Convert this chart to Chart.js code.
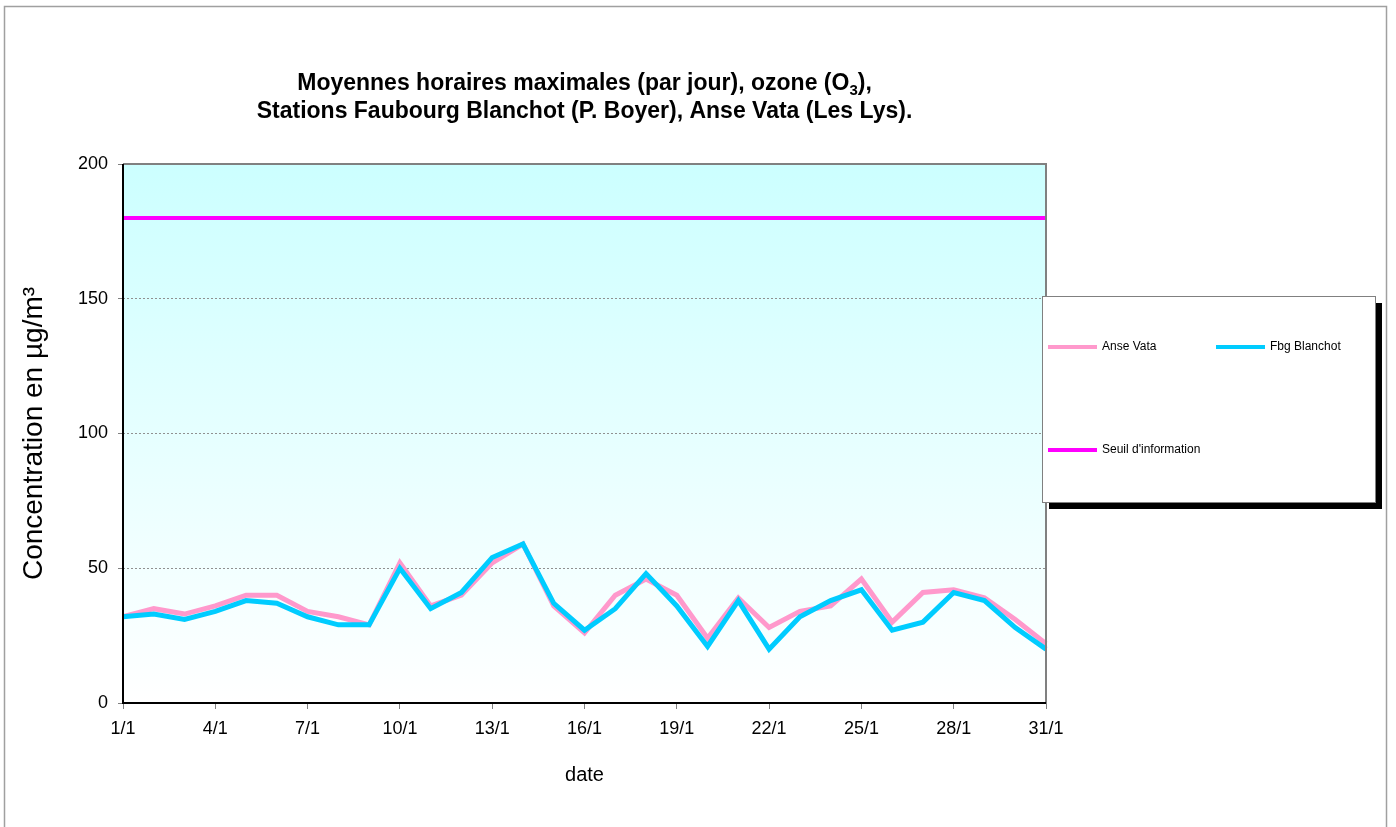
<!DOCTYPE html>
<html>
<head>
<meta charset="utf-8">
<script src="https://cdn.jsdelivr.net/npm/chart.js@4/dist/chart.umd.min.js"></script>
<style>
html,body{margin:0;padding:0;background:#fff;}
#wrap{position:relative;width:1396px;height:827px;}
</style>
</head>
<body>
<div id="wrap"><canvas id="c" width="1396" height="827"></canvas></div>
<script>
const categories = ["1/1","2/1","3/1","4/1","5/1","6/1","7/1","8/1","9/1","10/1","11/1","12/1","13/1","14/1","15/1","16/1","17/1","18/1","19/1","20/1","21/1","22/1","23/1","24/1","25/1","26/1","27/1","28/1","29/1","30/1","31/1"];
const anseVata = [32,35,33,36,40,40,34,32,29,52,36,40,52,59,36,26,40,46,40,24,39,28,34,36,46,30,41,42,39,31,22];
const fbgBlanchot = [32,33,31,34,38,37,32,29,29,50,35,41,54,59,37,27,35,48,36,21,38,20,32,38,42,27,30,41,38,28,20];
const seuilInformation = [180,180,180,180,180,180,180,180,180,180,180,180,180,180,180,180,180,180,180,180,180,180,180,180,180,180,180,180,180,180,180];
const xTickLabels = ["1/1","4/1","7/1","10/1","13/1","16/1","19/1","22/1","25/1","28/1","31/1"];
const yTickValues = [0,50,100,150,200];
const seriesNames = ["Anse Vata","Fbg Blanchot","Seuil d'information"];

const FONT = "'Liberation Sans', Arial, sans-serif";

const framePlugin = {
  id: 'frame',
  beforeDraw(chart) {
    const {ctx, chartArea: a} = chart;
    ctx.save();
    ctx.fillStyle = '#ffffff';
    ctx.fillRect(0, 0, chart.width, chart.height);
    ctx.strokeStyle = '#a0a0a0';
    ctx.lineWidth = 1.5;
    ctx.strokeRect(4.5, 6.5, 1382, 840);
    const g = ctx.createLinearGradient(0, a.top, 0, a.bottom);
    g.addColorStop(0, '#ccffff');
    g.addColorStop(1, '#ffffff');
    ctx.fillStyle = g;
    ctx.fillRect(a.left, a.top, a.right - a.left, a.bottom - a.top);
    ctx.restore();
  },
  afterDatasetsDraw(chart) {
    const {ctx, chartArea: a} = chart;
    ctx.save();
    ctx.strokeStyle = '#808080';
    ctx.lineWidth = 2;
    ctx.beginPath();
    ctx.moveTo(a.left, a.top);
    ctx.lineTo(a.right, a.top);
    ctx.lineTo(a.right, a.bottom);
    ctx.stroke();
    ctx.strokeStyle = '#000000';
    ctx.beginPath();
    ctx.moveTo(a.left, a.top);
    ctx.lineTo(a.left, a.bottom);
    ctx.lineTo(a.right, a.bottom);
    ctx.stroke();
    ctx.restore();
  },
  afterDraw(chart) {
    const {ctx, chartArea: a} = chart;
    ctx.save();
    // Title
    const cx = (a.left + a.right) / 2;
    ctx.fillStyle = '#000';
    ctx.textBaseline = 'alphabetic';
    const big = 'bold 23px ' + FONT;
    const small = 'bold 15px ' + FONT;
    const p1 = 'Moyennes horaires maximales (par jour), ozone (O';
    const p2 = '3';
    const p3 = '),';
    ctx.font = big;
    const w1 = ctx.measureText(p1).width, w3 = ctx.measureText(p3).width;
    ctx.font = small;
    const w2 = ctx.measureText(p2).width;
    let x = cx - (w1 + w2 + w3) / 2;
    const y1 = 90;
    ctx.textAlign = 'left';
    ctx.font = big; ctx.fillText(p1, x, y1); x += w1;
    ctx.font = small; ctx.fillText(p2, x, y1 + 5); x += w2;
    ctx.font = big; ctx.fillText(p3, x, y1);
    ctx.textAlign = 'center';
    ctx.fillText('Stations Faubourg Blanchot (P. Boyer), Anse Vata (Les Lys).', cx, 118);

    // Legend
    const lx = 1042, ly = 296, lw = 333, lh = 206;
    ctx.fillStyle = '#000';
    ctx.fillRect(lx + 7, ly + 7, lw, lh);
    ctx.fillStyle = '#fff';
    ctx.fillRect(lx, ly, lw, lh);
    ctx.strokeStyle = '#808080';
    ctx.lineWidth = 1;
    ctx.strokeRect(lx + 0.5, ly + 0.5, lw, lh);
    const pos = [[1048, 347], [1216, 347], [1048, 450]];
    ctx.font = '12px ' + FONT;
    ctx.textAlign = 'left';
    ctx.textBaseline = 'middle';
    chart.data.datasets.forEach((ds, i) => {
      const [px, py] = pos[i];
      ctx.strokeStyle = ds.borderColor;
      ctx.lineWidth = 4;
      ctx.beginPath();
      ctx.moveTo(px, py);
      ctx.lineTo(px + 49, py);
      ctx.stroke();
      ctx.fillStyle = '#000';
      ctx.fillText(ds.label, px + 54, py);
    });
    ctx.restore();
  }
};

new Chart(document.getElementById('c'), {
  type: 'line',
  data: {
    labels: categories,
    datasets: [
      {label: seriesNames[0], data: anseVata, borderColor: '#ff99cc', backgroundColor: '#ff99cc', borderWidth: 5, order: 3},
      {label: seriesNames[1], data: fbgBlanchot, borderColor: '#00ccff', backgroundColor: '#00ccff', borderWidth: 5, order: 2},
      {label: seriesNames[2], data: seuilInformation, borderColor: '#ff00ff', backgroundColor: '#ff00ff', borderWidth: 4, order: 1}
    ]
  },
  options: {
    responsive: false,
    animation: false,
    devicePixelRatio: 1,
    layout: {padding: {left: 0, right: 350, top: 164, bottom: 0}},
    elements: {point: {radius: 0, hoverRadius: 0}, line: {tension: 0, borderCapStyle: 'butt', borderJoinStyle: 'miter'}},
    plugins: {legend: {display: false}, title: {display: false}, tooltip: {enabled: false}},
    scales: {
      x: {
        offset: false,
        afterFit(s) { s.height = 124; },
        grid: {
          drawOnChartArea: false,
          drawTicks: true,
          tickLength: 6,
          color: '#808080',
          tickColor: (c) => xTickLabels.includes(categories[c.index]) ? '#808080' : 'rgba(0,0,0,0)'
        },
        border: {display: false},
        ticks: {
          autoSkip: false,
          maxRotation: 0,
          minRotation: 0,
          padding: 9,
          color: '#000',
          font: {family: FONT, size: 18},
          callback: (v, i) => xTickLabels.includes(categories[i]) ? categories[i] : ''
        },
        title: {display: true, text: 'date', color: '#000', font: {family: FONT, size: 20}, padding: {top: 0, bottom: 40}}
      },
      y: {
        min: 0,
        max: 200,
        afterFit(s) { s.width = 123; },
        afterBuildTicks(s) { s.ticks = yTickValues.map(v => ({value: v})); },
        grid: {
          drawTicks: true,
          tickLength: 5,
          lineWidth: 1,
          color: (c) => (c.tick && (c.tick.value === 0 || c.tick.value === 200)) ? 'rgba(0,0,0,0)' : '#909090',
          tickColor: '#808080'
        },
        border: {display: false, dash: [2, 2]},
        ticks: {
          padding: 10,
          color: '#000',
          font: {family: FONT, size: 18}
        },
        title: {display: true, text: 'Concentration en µg/m³', color: '#000', font: {family: FONT, size: 28}, padding: {top: 17, bottom: 0}}
      }
    }
  },
  plugins: [framePlugin]
});
</script>
</body>
</html>
